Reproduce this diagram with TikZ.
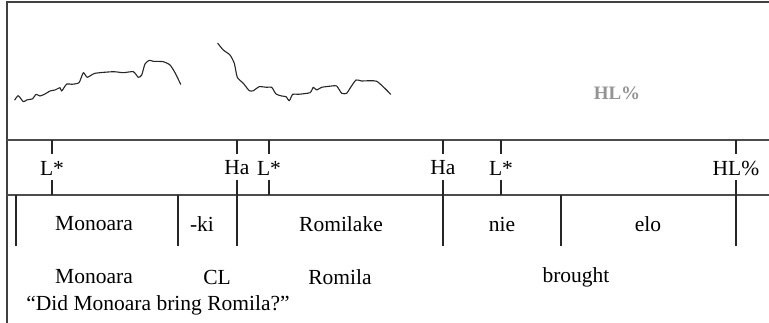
\documentclass[tikz,border=0pt]{standalone}
\usepackage{fontspec}
\setmainfont{Liberation Serif}
\begin{document}
\begin{tikzpicture}[x=1pt,y=-1pt,
  frame/.style={draw=black!75,line width=1.3pt},
  tierline/.style={draw=black!70,line width=1.1pt},
  tick/.style={draw=black!85,line width=2.5pt},
  bar/.style={draw=black!85,line width=2.7pt},
  f0/.style={draw=black!85,line width=1.1pt,line join=round,line cap=round},
  lab/.style={inner sep=0pt,font=\fontsize{21.5}{24}\selectfont},
  glab/.style={inner sep=0pt,text=black!42,font=\fontsize{19}{22}\selectfont\bfseries}]
\useasboundingbox (0,0) rectangle (769,323);
\path[fill=white] (0,0) rectangle (769,323);

% frame and tier lines
\coordinate (tl) at (7,2);
\coordinate (tr) at (769,2);
\coordinate (bl) at (7,323);
\draw[frame] (tr) -- (tl) -- (bl);
\coordinate (a1) at (7,140);  \coordinate (a2) at (769,140);
\coordinate (b1) at (7,195);  \coordinate (b2) at (769,195);
\draw[tierline] (a1) -- (a2);
\draw[tierline] (b1) -- (b2);

% f0 contour
\draw[f0] plot[smooth,tension=0.35] coordinates {
 (14.7,100) (18.3,95.7) (23.3,101.7) (26.7,100) (32.7,98.7) (36,94.3) (40,96)
 (45,94) (50,91) (55,90) (60,87.7) (61.7,91) (66.7,84) (71.7,84.3) (79,82.7)
 (83.3,72.7) (87.3,77.3) (95,73.3) (113.3,71.7) (123.3,72.7) (133.3,71.7)
 (138.3,77.3) (141.7,75) (145,64) (149.3,60.3) (153.3,61.3) (163.3,61.7)
 (170,65) (175,72.7) (180.7,84.3)};
\draw[f0] plot[smooth,tension=0.35] coordinates {
 (217.7,43.3) (223.3,50) (230,55) (234.3,63.3) (237.3,77.3) (243.3,83.3)
 (249.3,90.7) (253.3,90.7) (259.3,86.7) (266.7,87.3) (271.7,87.3) (276,94)
 (281.7,96) (286,96.7) (289.3,100.7) (292.7,94.3) (298.3,94.3) (310,92.7)
 (313.3,87.3) (316.7,90) (321.7,87.3) (331.7,86) (336.7,86) (341.7,93.3)
 (346.7,93.3) (350,88.3) (356,80) (361.7,81) (376.7,81.3) (390.7,94.3)};
\node[glab] (hlgray) at (617,93) {HL\%};

% tone tier
\foreach \n/\x/\t in {t1/52/L*, t2/237/Ha, t3/269/L*, t4/443/Ha, t5/501/L*, t6/736/HL\%}{
  \node[lab] (\n) at (\x,168) {\t};
  \coordinate (\n top) at (\x,140);
  \coordinate (\n up) at (\x,154);
  \coordinate (\n dn) at (\x,180);
  \coordinate (\n bot) at (\x,195);
  \draw[tick] (\n top) -- (\n up);
  \draw[tick] (\n dn) -- (\n bot);
}

% word tier boundaries
\foreach \n/\x in {w1/16, w2/178, w3/237, w4/443, w5/561, w6/736}{
  \coordinate (\n a) at (\x,195);
  \coordinate (\n b) at (\x,246);
  \draw[bar] (\n a) -- (\n b);
}
\node[lab] (m1) at (94,224) {Monoara};
\node[lab] (m2) at (202,224) {-ki};
\node[lab] (m3) at (341,224) {Romilake};
\node[lab] (m4) at (502,224) {nie};
\node[lab] (m5) at (648,224) {elo};

% gloss and translation
\node[lab] (g1) at (94,277) {Monoara};
\node[lab] (g2) at (217,277) {CL};
\node[lab] (g3) at (340,277) {Romila};
\node[lab] (g4) at (576,277) {brought};
\node[lab] (tr1) at (158,305) {“Did Monoara bring Romila?”};
\end{tikzpicture}
\end{document}
